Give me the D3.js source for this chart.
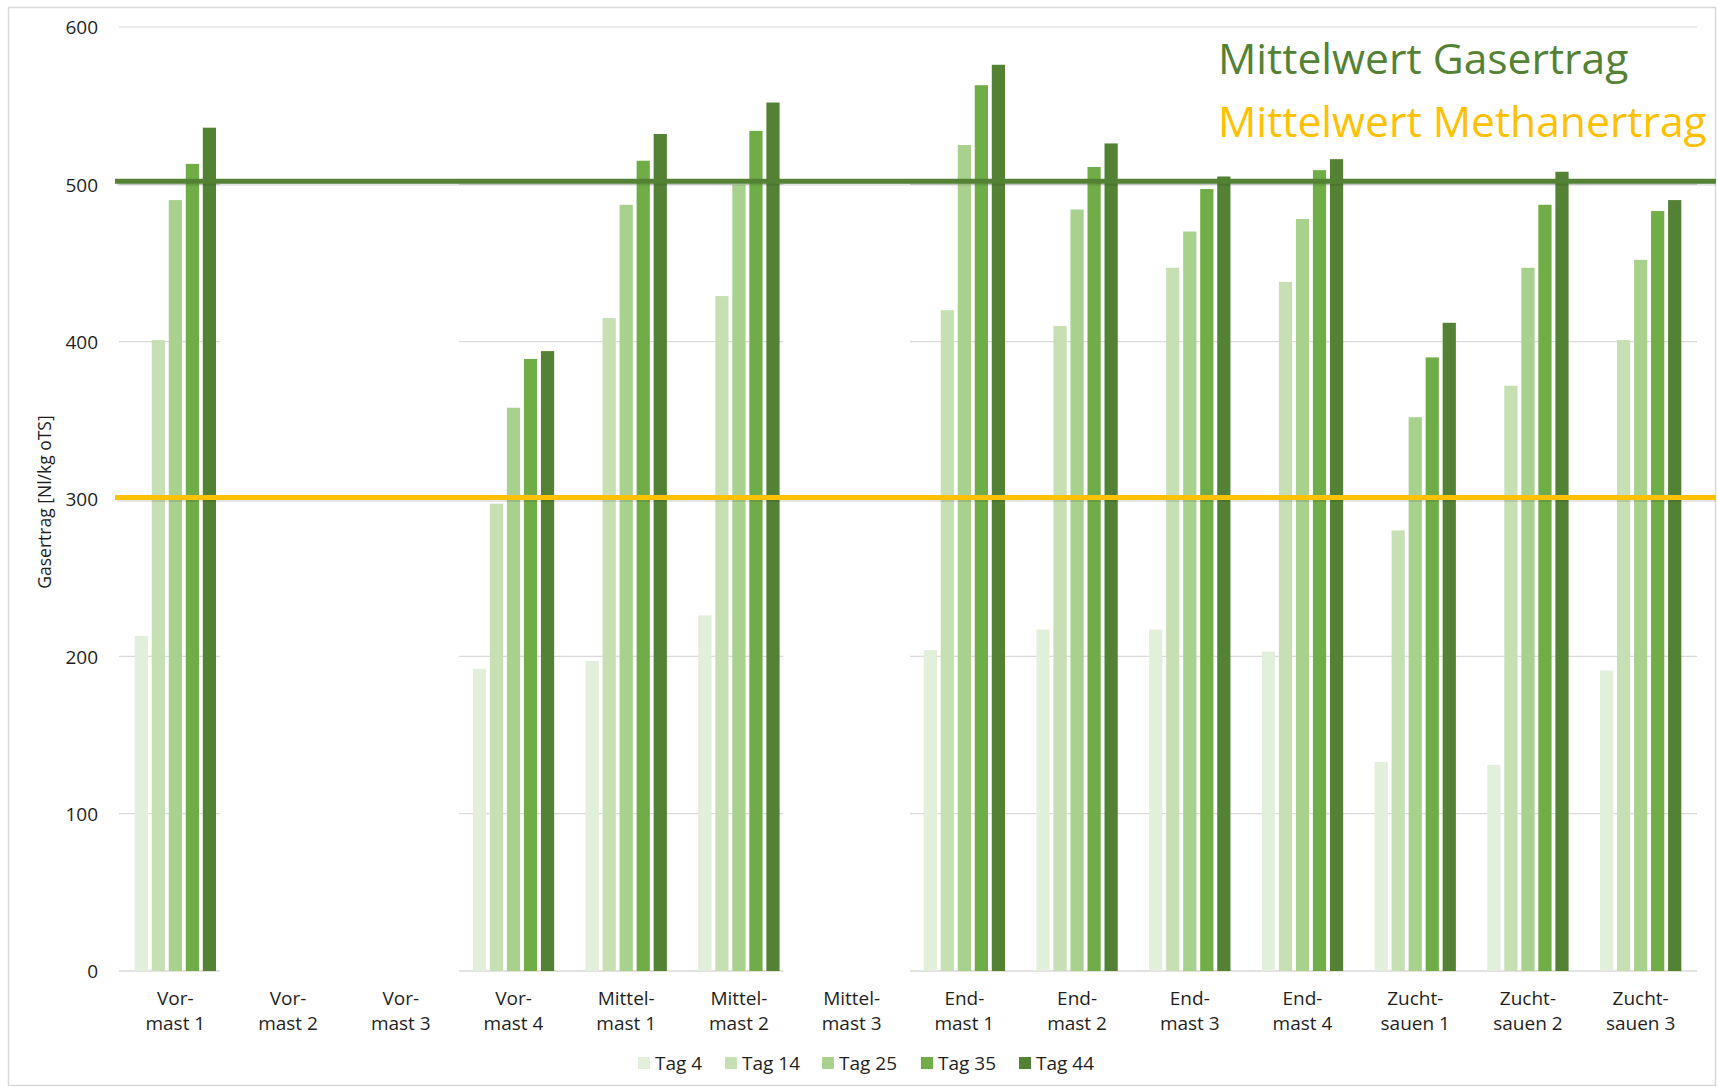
<!DOCTYPE html>
<html>
<head>
<meta charset="utf-8">
<script src="https://cdn.jsdelivr.net/npm/d3@7"></script>
<style>
  html, body { margin: 0; padding: 0; background: #fff; }
  svg { display: block; font-family: "Open Sans", "DejaVu Sans", sans-serif; }
</style>
</head>
<body>
<svg id="chart" width="1718" height="1087"></svg>
<script>
// Categories (animal groups) and gas yield per measurement day [Nl/kg oTS]
const categories = [
  "Vor-\nmast 1", "Vor-\nmast 2", "Vor-\nmast 3", "Vor-\nmast 4",
  "Mittel-\nmast 1", "Mittel-\nmast 2", "Mittel-\nmast 3",
  "End-\nmast 1", "End-\nmast 2", "End-\nmast 3", "End-\nmast 4",
  "Zucht-\nsauen 1", "Zucht-\nsauen 2", "Zucht-\nsauen 3"
];
const seriesNames = ["Tag 4", "Tag 14", "Tag 25", "Tag 35", "Tag 44"];
const tag4  = [213, null, null, 192, 197, 226, null, 204, 217, 217, 203, 133, 131, 191];
const tag14 = [401, null, null, 297, 415, 429, null, 420, 410, 447, 438, 280, 372, 401];
const tag25 = [490, null, null, 358, 487, 500, null, 525, 484, 470, 478, 352, 447, 452];
const tag35 = [513, null, null, 389, 515, 534, null, 563, 511, 497, 509, 390, 487, 483];
const tag44 = [536, null, null, 394, 532, 552, null, 576, 526, 505, 516, 412, 508, 490];
const seriesColors = ["#E2EFDA", "#C6E0B4", "#A9D18E", "#70AD47", "#548235"];

// Reference means
const meanGas = 502;
const meanMethane = 301;
const yTicks = [0, 100, 200, 300, 400, 500, 600];

const seriesValues = [tag4, tag14, tag25, tag35, tag44];

const svg = d3.select("#chart");
const plot = { left: 119, right: 1697, top: 27, bottom: 971 };

// Outer chart frame
svg.append("rect")
  .attr("x", 8.5).attr("y", 7.5)
  .attr("width", 1707).attr("height", 1078)
  .attr("fill", "#fff").attr("stroke", "#D9D9D9").attr("stroke-width", 1.5);

const x0 = d3.scaleBand().domain(categories).range([plot.left, plot.right]).padding(0);
const x1 = d3.scaleBand().domain(seriesNames).range([0, x0.bandwidth()])
  .paddingInner(0).paddingOuter(0.81);
const y = d3.scaleLinear().domain([0, 600]).range([plot.bottom, plot.top]);

// Horizontal gridlines
svg.append("g").selectAll("line").data(yTicks).join("line")
  .attr("x1", plot.left).attr("x2", plot.right)
  .attr("y1", d => y(d)).attr("y2", d => y(d))
  .attr("stroke", "#D9D9D9").attr("stroke-width", d => d === 0 ? 1.6 : 1.2);

// Y axis tick labels
const yAxis = d3.axisLeft(y).tickValues(yTicks).tickSize(0).tickPadding(0);
const gy = svg.append("g").attr("transform", "translate(98,0)").call(yAxis);
gy.select(".domain").remove();
gy.selectAll("text")
  .attr("font-family", "Open Sans").attr("font-size", 19).attr("fill", "#1f1f1f")
  .attr("dy", "0.36em");

// Y axis title
svg.append("text")
  .attr("transform", "translate(51,502) rotate(-90)")
  .attr("text-anchor", "middle")
  .attr("font-size", 17.5).attr("fill", "#1f1f1f")
  .text("Gasertrag [Nl/kg oTS]");

// Bars
const groups = svg.append("g").selectAll("g").data(categories).join("g")
  .attr("transform", d => `translate(${x0(d)},0)`);
groups.selectAll("rect")
  .data((c, i) => seriesNames.map((s, k) => ({ s, k, v: seriesValues[k][i] })).filter(d => d.v != null))
  .join("rect")
  .attr("x", d => x1(d.s) + 1.9)
  .attr("width", x1.bandwidth() - 3.8)
  .attr("y", d => y(d.v))
  .attr("height", d => y(0) - y(d.v))
  .attr("fill", d => seriesColors[d.k]);

// White panels over the groups without measurements
const empty = categories.map((c, i) => seriesValues.every(s => s[i] == null));
const runs = [];
empty.forEach((e, i) => {
  if (!e) return;
  if (runs.length && runs[runs.length - 1].end === i - 1) runs[runs.length - 1].end = i;
  else runs.push({ start: i, end: i });
});
svg.append("g").selectAll("rect").data(runs).join("rect")
  .attr("x", d => x0(categories[d.start]) - 12)
  .attr("width", d => x0(categories[d.end]) + x0.bandwidth() + 2 - (x0(categories[d.start]) - 12))
  .attr("y", y(590)).attr("height", y(0) - y(590) + 4)
  .attr("fill", "#fff");

// Mean lines (with a soft shadow)
const means = [
  { v: meanGas, color: "#548235" },
  { v: meanMethane, color: "#FFC000" }
];
const ml = svg.append("g");
ml.selectAll("line.shadow").data(means).join("line").attr("class", "shadow")
  .attr("x1", 117).attr("x2", 1716)
  .attr("y1", d => y(d.v) + 3).attr("y2", d => y(d.v) + 3)
  .attr("stroke", "rgba(0,0,0,0.10)").attr("stroke-width", 3);
ml.selectAll("line.mean").data(means).join("line").attr("class", "mean")
  .attr("x1", 115).attr("x2", 1716)
  .attr("y1", d => y(d.v)).attr("y2", d => y(d.v))
  .attr("stroke", d => d.color).attr("stroke-width", 5);

// Annotation texts
svg.append("text").attr("x", 1218).attr("y", 74)
  .attr("font-size", 42.6).attr("fill", "#548235").text("Mittelwert Gasertrag");
svg.append("text").attr("x", 1218).attr("y", 137)
  .attr("font-size", 42.6).attr("fill", "#FFC000").text("Mittelwert Methanertrag");

// Category labels (two lines)
const xl = svg.append("g").selectAll("text").data(categories).join("text")
  .attr("text-anchor", "middle")
  .attr("font-size", 19).attr("fill", "#1f1f1f")
  .attr("x", d => x0(d) + x0.bandwidth() / 2);
xl.selectAll("tspan").data(d => d.split("\n")).join("tspan")
  .attr("x", function () { return d3.select(this.parentNode).attr("x"); })
  .attr("y", (d, i) => 1005 + i * 25)
  .text(d => d);

// Legend
const legendX = [638, 725, 822, 921, 1019];
const lg = svg.append("g").selectAll("g").data(seriesNames).join("g")
  .attr("transform", (d, i) => `translate(${legendX[i]},1057)`);
lg.append("rect").attr("width", 12).attr("height", 12)
  .attr("fill", (d, i) => seriesColors[i]);
lg.append("text").attr("x", 17).attr("y", 12.5)
  .attr("font-size", 19).attr("fill", "#1f1f1f").text(d => d);
</script>
</body>
</html>
